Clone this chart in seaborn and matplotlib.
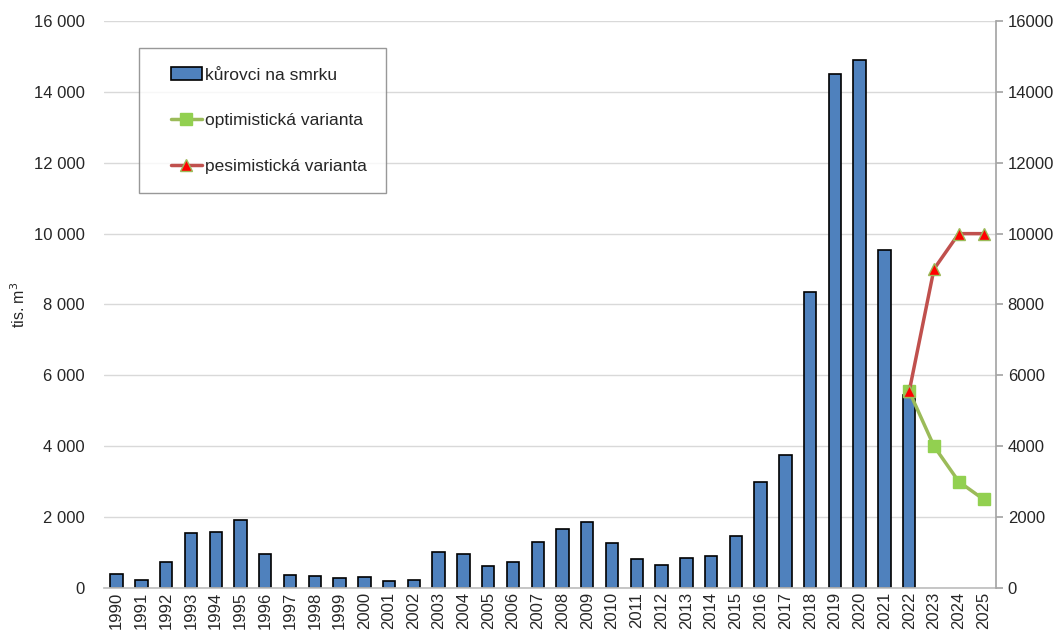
import pandas as pd
import seaborn as sns
import matplotlib.pyplot as plt
from matplotlib.ticker import FuncFormatter
from matplotlib.container import BarContainer
from matplotlib.lines import Line2D
from matplotlib.legend_handler import HandlerPatch, HandlerLine2D, update_from_first_child

years = [str(y) for y in range(1990, 2026)]
kurovci = [400, 225, 730, 1550, 1580, 1920, 960, 370, 340, 280,
           300, 200, 210, 1010, 950, 630, 720, 1300, 1660, 1860,
           1270, 820, 640, 830, 900, 1470, 3000, 3750, 8350, 14500,
           14900, 9540, 5450, None, None, None]
forecast_years = ['2022', '2023', '2024', '2025']
optimisticka = [5550, 4000, 3000, 2500]
pesimisticka = [5550, 9000, 10000, 10000]

bar_color = '#4F81BD'
opt_line = '#9BBB59'
opt_marker = '#92D050'
pes_line = '#C0504D'

sns.set_theme(style='white')
plt.rcParams['font.family'] = ['Liberation Sans', 'DejaVu Sans']

df = pd.DataFrame({'rok': years, 'hodnota': kurovci})

fig = plt.figure(figsize=(10.64, 6.39), dpi=100)
ax = fig.add_axes([0.098, 0.080, 0.838, 0.887])

sns.barplot(data=df, x='rok', y='hodnota', color=bar_color, width=0.5,
            edgecolor='black', linewidth=1.2, saturation=1, ax=ax,
            label='kůrovci na smrku', legend=False)

ax.set_ylim(0, 16000)
ax.set_yticks(range(0, 16001, 2000))
ax.yaxis.set_major_formatter(FuncFormatter(lambda v, p: f'{int(v):,}'.replace(',', ' ')))
ax.grid(axis='y', color='#D9D9D9', linewidth=1)
ax.set_axisbelow(True)
ax.set_xlim(-0.5, len(years) - 0.5)
ax.set_xlabel('')
ax.set_ylabel('tis. m$^3$', fontsize=11.5)
ax.tick_params(axis='x', rotation=90, labelsize=12, length=0, pad=3)
ax.tick_params(axis='y', labelsize=12, length=0, pad=14)
for s in ['left', 'top', 'right']:
    ax.spines[s].set_visible(False)
ax.spines['bottom'].set_color('#BFBFBF')
if ax.get_legend() is not None:
    ax.get_legend().remove()

ax2 = ax.twinx()
pos = [years.index(y) for y in forecast_years]
ax2.plot(pos, optimisticka, color=opt_line, linewidth=2.5, marker='s',
         markersize=9, markerfacecolor=opt_marker, markeredgecolor=opt_marker,
         label='optimistická varianta')
ax2.plot(pos, pesimisticka, color=pes_line, linewidth=2.5, marker='^',
         markersize=9, markerfacecolor='red', markeredgecolor=opt_line,
         markeredgewidth=1, label='pesimistická varianta')
ax2.set_ylim(0, 16000)
ax2.set_yticks(range(0, 16001, 2000))
ax2.tick_params(axis='y', labelsize=12, length=5, color='#A6A6A6', direction='out')
for s in ['left', 'top', 'bottom']:
    ax2.spines[s].set_visible(False)
ax2.spines['right'].set_color('#A6A6A6')
ax2.grid(False)

# legend: handles pushed in from the frame a bit, like the original
h1, l1 = ax.get_legend_handles_labels()
h2, l2 = ax2.get_legend_handles_labels()
handler_map = {
    BarContainer: HandlerPatch(xpad=0.75, update_func=update_from_first_child),
    Line2D: HandlerLine2D(xpad=0.75),
}
leg = ax2.legend(h1 + h2, l1 + l2, loc='upper left', bbox_to_anchor=(0.039, 0.952),
                 borderaxespad=0, fontsize=12.5, labelspacing=1.75, borderpad=1.1,
                 handlelength=2.5, handletextpad=0.2, fancybox=False, frameon=True,
                 handler_map=handler_map)
leg.get_frame().set_edgecolor('#7F7F7F')
leg.get_frame().set_linewidth(1)

fig.savefig('out.png', dpi=100)
